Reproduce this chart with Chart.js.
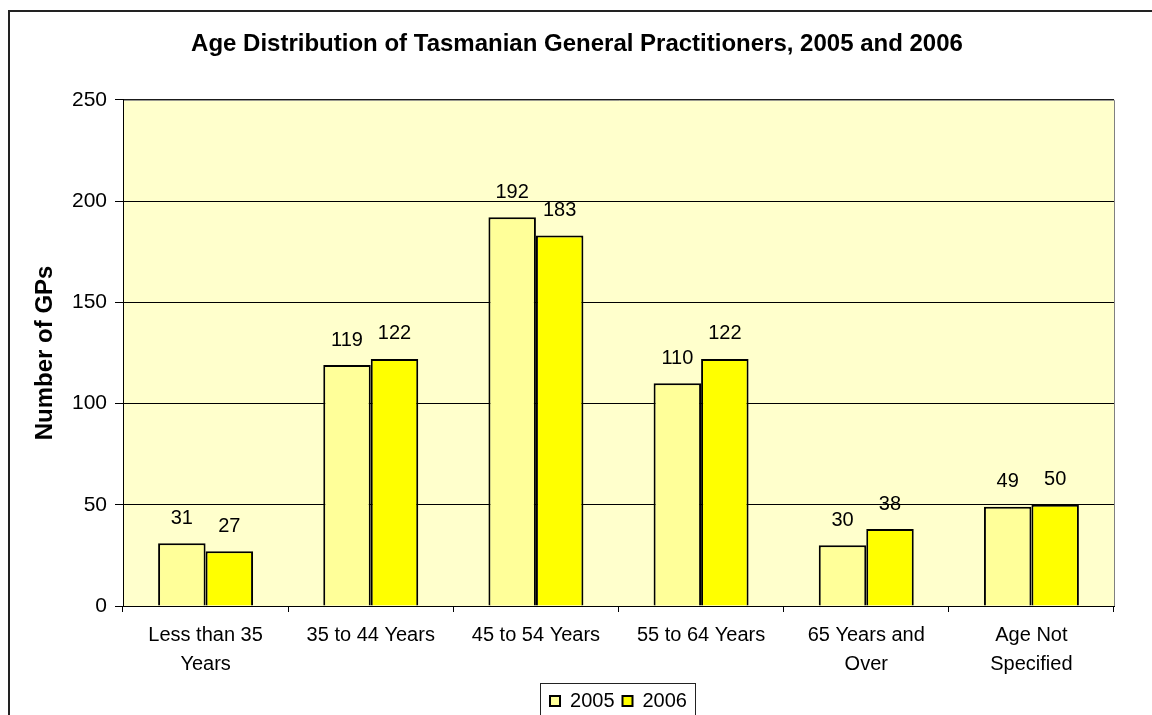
<!DOCTYPE html>
<html>
<head>
<meta charset="utf-8">
<title>Age Distribution of Tasmanian General Practitioners</title>
<script src="https://cdn.jsdelivr.net/npm/chart.js@4.4.1/dist/chart.umd.min.js"></script>
<style>
  html, body { margin: 0; padding: 0; background: #ffffff; }
  canvas { display: block; }
</style>
</head>
<body>
<canvas id="gpChart" width="1152" height="715"></canvas>
<script>
// Chart data
const ageGroups = [
    ['Less than 35', 'Years'],
    '35 to 44 Years',
    '45 to 54 Years',
    '55 to 64 Years',
    ['65 Years and', 'Over'],
    ['Age Not', 'Specified']
];
const gps2005 = [31, 119, 192, 110, 30, 49];
const gps2006 = [27, 122, 183, 122, 38, 50];
const yTicks = [0, 50, 100, 150, 200, 250];

const FONT = '"Liberation Sans", Arial, sans-serif';

// Outer frame and plot background
const backgroundPlugin = {
    id: 'backgroundPlugin',
    beforeDraw(chart) {
        const ctx = chart.ctx;
        const area = chart.chartArea;
        ctx.save();
        ctx.fillStyle = '#ffffff';
        ctx.fillRect(0, 0, chart.width, chart.height);
        // frame runs off the right and bottom edges of the picture
        ctx.strokeStyle = '#222222';
        ctx.lineWidth = 2;
        ctx.strokeRect(9, 11, chart.width + 20, chart.height + 40);
        ctx.fillStyle = '#FFFFCC';
        ctx.fillRect(area.left, area.top, area.right - area.left, area.bottom - area.top);
        ctx.restore();
    },
    beforeDatasetsDraw(chart) {
        // grey top and right edges of the plot area
        const ctx = chart.ctx;
        const area = chart.chartArea;
        ctx.save();
        ctx.strokeStyle = '#808080';
        ctx.lineWidth = 1;
        ctx.beginPath();
        ctx.moveTo(area.left + 1, area.top + 0.5);
        ctx.lineTo(area.right + 0.5, area.top + 0.5);
        ctx.lineTo(area.right + 0.5, area.bottom);
        ctx.stroke();
        ctx.restore();
    }
};

// Value labels above each bar
const valueLabels = {
    id: 'valueLabels',
    afterDatasetsDraw(chart) {
        const ctx = chart.ctx;
        ctx.save();
        ctx.font = '20px ' + FONT;
        ctx.fillStyle = '#000000';
        ctx.textAlign = 'center';
        ctx.textBaseline = 'middle';
        chart.data.datasets.forEach((ds, i) => {
            chart.getDatasetMeta(i).data.forEach((bar, j) => {
                ctx.fillText(ds.data[j], bar.x, bar.y - 25);
            });
        });
        ctx.restore();
    }
};

// Box round the legend
const legendFrame = {
    id: 'legendFrame',
    afterDraw(chart) {
        const boxes = chart.legend && chart.legend.legendHitBoxes;
        if (!boxes || !boxes.length) return;
        const first = boxes[0];
        const last = boxes[boxes.length - 1];
        const ctx = chart.ctx;
        ctx.save();
        ctx.strokeStyle = '#222222';
        ctx.lineWidth = 1;
        ctx.strokeRect(Math.round(first.left - 10) + 0.5, Math.round(first.top - 8) + 0.5,
            Math.round(last.left + last.width - first.left + 18), 60);
        ctx.restore();
    }
};

const ctx = document.getElementById('gpChart').getContext('2d');

new Chart(ctx, {
    type: 'bar',
    data: {
        labels: ageGroups,
        datasets: [{
            label: '2005',
            data: gps2005,
            backgroundColor: '#FFFF99',
            borderColor: '#000000',
            borderWidth: 2,
            categoryPercentage: 0.575,
            barPercentage: 1.0
        }, {
            label: '2006',
            data: gps2006,
            backgroundColor: '#FFFF00',
            borderColor: '#000000',
            borderWidth: 2,
            categoryPercentage: 0.575,
            barPercentage: 1.0
        }]
    },
    options: {
        responsive: false,
        animation: false,
        devicePixelRatio: 1,
        layout: { padding: { left: 40, right: 38, top: 0, bottom: -6 } },
        scales: {
            x: {
                grid: {
                    display: true,
                    offset: true,
                    drawOnChartArea: false,
                    color: '#000000',
                    tickLength: 6
                },
                border: { color: '#000000', width: 1 },
                ticks: {
                    color: '#000000',
                    padding: 9,
                    maxRotation: 0,
                    font: { family: FONT, size: 20, lineHeight: 1.45 }
                },
                afterFit(scale) { scale.height = 77; }
            },
            y: {
                min: 0,
                max: 250,
                afterBuildTicks(scale) {
                    scale.ticks = yTicks.map(v => ({ value: v }));
                },
                grid: {
                    color: '#000000',
                    tickLength: 8
                },
                border: { color: '#000000', width: 1 },
                ticks: {
                    color: '#000000',
                    padding: 8,
                    font: { family: FONT, size: 21 }
                },
                title: {
                    display: true,
                    text: 'Number of GPs',
                    color: '#000000',
                    padding: { top: -9, bottom: 0 },
                    font: { family: FONT, size: 24, weight: 'bold', lineHeight: 1.2 }
                },
                afterFit(scale) { scale.width = 83; }
            }
        },
        plugins: {
            title: {
                display: true,
                text: 'Age Distribution of Tasmanian General Practitioners, 2005 and 2006',
                color: '#000000',
                padding: { top: 30, bottom: 41 },
                font: { family: FONT, size: 24, weight: 'bold', lineHeight: 1.2 }
            },
            legend: {
                position: 'bottom',
                fullSize: false,
                labels: {
                    color: '#000000',
                    boxWidth: 10,
                    boxHeight: 10,
                    padding: 8,
                    font: { family: FONT, size: 20 }
                }
            },
            tooltip: { enabled: false }
        }
    },
    plugins: [backgroundPlugin, valueLabels, legendFrame]
});
</script>
</body>
</html>
